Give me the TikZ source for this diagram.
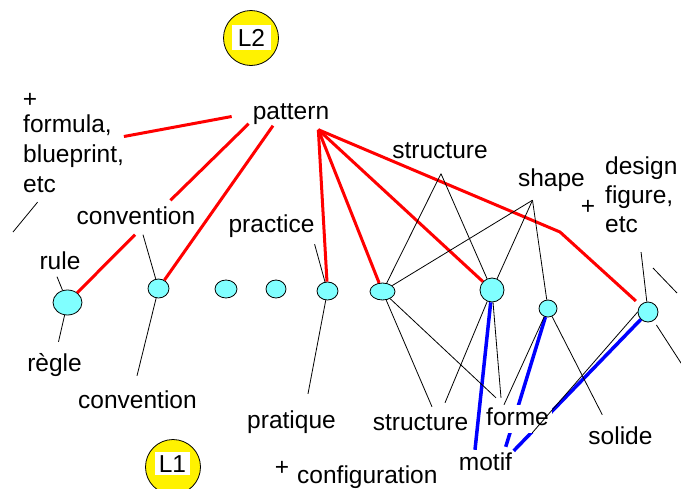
\documentclass[tikz,border=0pt]{standalone}
\usepackage{fontspec}
\setmainfont{Liberation Sans}
\usetikzlibrary{shapes.geometric}
\definecolor{aqua}{RGB}{128,255,255}

\begin{document}
\begin{tikzpicture}[
        x=1pt, y=-1pt,
        font=\fontsize{24.5}{29}\selectfont,
        word/.style={inner sep=0pt, text height=17pt, text depth=5pt},
        oval/.style={ellipse, draw, fill=aqua, inner sep=0pt, line width=0.8pt},
        lvlring/.style={circle, draw, fill=yellow, minimum size=55pt, inner sep=0pt, line width=0.8pt},
        lvltag/.style={fill=white, inner xsep=6pt, inner ysep=4pt, text height=17pt, text depth=0pt},
        redl/.style={draw=red, line width=3pt},
        bluel/.style={draw=blue, line width=3.5pt},
        blk/.style={draw=black, line width=0.8pt}
    ]
        \useasboundingbox (0,0) rectangle (681,488);

        % levels
        \node[lvlring] (ring2) at (251,38) {};
        \node[lvltag] (tag2) at (251.5,37.5) {L2};
        \node[lvlring] (ring1) at (173,467) {};
        \node[lvltag, inner xsep=4pt, inner ysep=3pt] (tag1) at (172.5,463.5) {L1};

        % English words
        \node[word] (pattern) at (291,113.5) {pattern};
        \node[word] (plusl) at (30,101.5) {+};
        \node[word, anchor=west] (formula) at (23,126.5) {formula,};
        \node[word, anchor=west] (blueprint) at (23,156) {blueprint,};
        \node[word, anchor=west] (etcl) at (23,186) {etc};
        \node[word] (conv1) at (136,218.5) {convention};
        \node[word] (practice) at (271.5,226.5) {practice};
        \node[word] (struc1) at (440,152.5) {structure};
        \node[word] (shp) at (551.5,180) {shape};
        \node[word] (plusr) at (588,208) {+};
        \node[word, anchor=west] (design) at (605,168.5) {design};
        \node[word, anchor=west] (figure) at (605,197) {figure,};
        \node[word, anchor=west] (etcr) at (605,226) {etc};
        \node[word] (rule) at (60,263.5) {rule};

        % French words
        \node[word] (regle) at (54.5,365) {règle};
        \node[word] (conv2) at (137.5,402.5) {convention};
        \node[word] (pratique) at (291.5,422.5) {pratique};
        \node[word] (struc2) at (420.5,424) {structure};
        \node[word] (solide) at (620.5,438.5) {solide};
        \node[word] (motif) at (485.5,464) {motif};
        \node[word] (plusb) at (282,469.5) {+};
        \node[word, anchor=west] (config) at (297,477.5) {configuration};

        % meanings
        \foreach \id/\px/\py/\w/\h in {n1/67.5/302.5/29pt/25pt, n2/158.5/288.5/21pt/19pt,
                n3/226/289/22pt/18pt, n4/276/289/20pt/18pt, n5/327.5/291/21pt/18pt,
                n6/382.5/291.5/25pt/17pt, n7/492/290/24pt/24pt, n8/548/308.5/18pt/17pt,
                n9/648/312/20pt/20pt}
            \node[oval, minimum width=\w, minimum height=\h] (\id) at (\px,\py) {};

        \coordinate (pat-r) at ([shift={(-11,5)}]pattern.south east);
        \coordinate (bend) at (560,232);
        \coordinate (struc-p) at ([shift={(1,10)}]struc1.south);
        \coordinate (shp-p) at ([shift={(-19,9)}]shp.south);
        \coordinate (lfree) at (13,232);
        \coordinate (rfree1) at (653,268);
        \coordinate (rfree2) at (677,293);
        \coordinate (rfree3) at (681,363);

        % L2 links
        \draw[redl] ([shift={(12,10)}]formula.east) -- ([shift={(-21,3)}]pattern.west);
        \draw[redl] ([shift={(-25,-7)}]conv1.north east) -- ([shift={(-4,-1)}]pattern.south west);
        \draw[redl] (n1) -- ([shift={(-1,5)}]conv1.south);
        \draw[redl] (n2) -- ([shift={(-18,1)}]pattern.south);
        \draw[redl] (pat-r) -- (n5);
        \draw[redl] (pat-r) -- (n6);
        \draw[redl] (pat-r) -- (n7);
        \draw[redl, shorten >=6pt] (pat-r) -- (bend) -- (n9);

        % word to meaning
        \draw[blk] ([shift={(-2,5)}]etcl.south) -- (lfree);
        \draw[blk] ([shift={(-3,2)}]rule.south) -- (n1);
        \draw[blk] (n1) -- ([shift={(4,-12)}]regle.north);
        \draw[blk] ([shift={(7,5)}]conv1.south) -- (n2);
        \draw[blk] (n2) -- ([shift={(-0.5,-15.5)}]conv2.north);
        \draw[blk] ([shift={(0,6.5)}]practice.south east) -- (n5);
        \draw[blk] (n5) -- ([shift={(16.5,-17.5)}]pratique.north);
        \draw[blk] (struc-p) -- (n6);
        \draw[blk] (struc-p) -- (n7);
        \draw[blk] (shp-p) -- (n6);
        \draw[blk] (shp-p) -- (n7);
        \draw[blk] (shp-p) -- (n8);
        \draw[blk] (n6) -- ([shift={(11.5,-6)}]struc2.north);
        \draw[blk] (n7) -- ([shift={(24.5,-10)}]struc2.north);
        \draw[blk] ([shift={(3,15)}]etcr.south east) -- (n9);
        \draw[blk] (rfree1) -- (rfree2);
        \draw[blk, shorten >=-2pt, shorten <=5pt] (n9) -- (rfree3);

        % L1 links
        \draw[bluel] (n7) -- ([shift={(-10.5,-3)}]motif.north);
        \draw[bluel] (n8) -- ([shift={(-6.5,-6)}]motif.north east);
        \draw[bluel] (n9) -- ([shift={(1.5,-2)}]motif.north east);

        \node[word, fill=white, inner sep=3pt] (forme) at (517.5,419) {forme};
        \draw[blk] (n6) -- ([shift={(13,-7)}]forme.north west);
        \draw[blk] (n7) -- ([shift={(18,-7)}]forme.north west);
        \draw[blk] (n8) -- ([shift={(21,0)}]forme.north west);
        \draw[blk] (n8) -- ([shift={(14,-12.5)}]solide.north west);
        \draw[blk] (n9.180) -- ([shift={(20,-20)}]motif.north east);
    \end{tikzpicture}
\end{document}
